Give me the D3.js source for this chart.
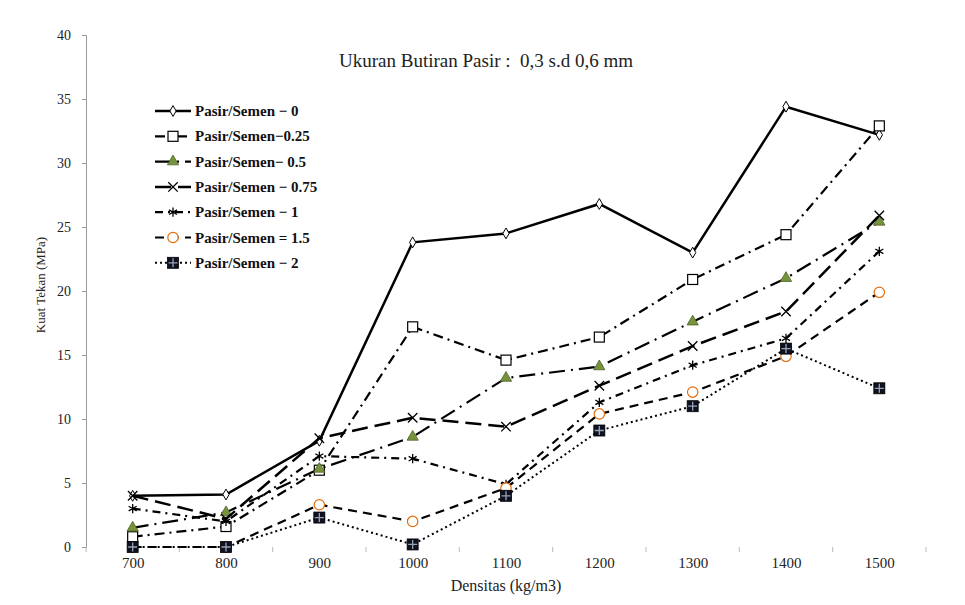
<!doctype html>
<html>
  <head>
    <meta charset="utf-8">
    <title>Kuat Tekan vs Densitas</title>
    <script src="https://cdnjs.cloudflare.com/ajax/libs/d3/7.8.5/d3.min.js"></script>
    <style>
      body { margin: 0; background: #fff; }
    </style>
  </head>
  <body>
    <div id="chart"></div>
    <script>
      // data
      const densitas = [700, 800, 900, 1000, 1100, 1200, 1300, 1400, 1500];
      const ps0   = [4.0, 4.1, 8.3, 23.8, 24.5, 26.8, 23.0, 34.4, 32.2];
      const ps025 = [0.8, 1.6, 6.0, 17.2, 14.6, 16.4, 20.9, 24.4, 32.9];
      const ps05  = [1.5, 2.7, 6.1, 8.6, 13.2, 14.1, 17.6, 21.0, 25.4];
      const ps075 = [4.0, 2.2, 8.5, 10.1, 9.4, 12.6, 15.7, 18.4, 25.9];
      const ps1   = [3.0, 2.0, 7.1, 6.9, 4.9, 11.3, 14.2, 16.3, 23.1];
      const ps15  = [0, 0, 3.3, 2.0, 4.6, 10.4, 12.1, 14.9, 19.9];
      const ps2   = [0, 0, 2.3, 0.2, 4.0, 9.1, 11.0, 15.5, 12.4];
      const yTicks = [0, 5, 10, 15, 20, 25, 30, 35, 40];
      const legendLabels = [
        "Pasir/Semen \u2212 0", "Pasir/Semen\u22120.25", "Pasir/Semen\u2212 0.5",
        "Pasir/Semen \u2212 0.75", "Pasir/Semen \u2212 1", "Pasir/Semen = 1.5", "Pasir/Semen \u2212 2"
      ];

      const FONT = "'Liberation Serif', 'DejaVu Serif', serif";

      const series = [
        { name: legendLabels[0], values: ps0,   dash: null,        width: 2.5, marker: "diamond" },
        { name: legendLabels[1], values: ps025, dash: "10,5,2,5",  width: 2.2, marker: "square" },
        { name: legendLabels[2], values: ps05,  dash: "16,6,2,6",  width: 2.2, marker: "triangle" },
        { name: legendLabels[3], values: ps075, dash: "16,7",      width: 2.5, marker: "x" },
        { name: legendLabels[4], values: ps1,   dash: "8,5,2,5",   width: 2.2, marker: "asterisk" },
        { name: legendLabels[5], values: ps15,  dash: "9,6",       width: 2.2, marker: "circle" },
        { name: legendLabels[6], values: ps2,   dash: "2,3",       width: 2,   marker: "filled" }
      ];

      const W = 965, H = 605;
      const svg = d3.select("#chart").append("svg")
        .attr("width", W).attr("height", H)
        .style("font-family", FONT);

      const x = d3.scalePoint().domain(densitas).range([86, 926]).padding(0.5);
      const y = d3.scaleLinear().domain([0, 40]).range([547, 35]);

      // y axis
      const yAxis = svg.append("g").attr("transform", "translate(86,0)")
        .call(d3.axisLeft(y).tickValues(yTicks).tickSize(4).tickPadding(11));
      yAxis.attr("font-family", null);
      yAxis.select(".domain").attr("stroke", "#999");
      yAxis.selectAll(".tick line").attr("stroke", "#999");
      yAxis.selectAll(".tick text").attr("font-size", 14).attr("fill", "#222")
        .style("font-family", FONT);

      // x axis: labels at categories, ticks between categories
      const step = x.step();
      const xAxis = svg.append("g").attr("transform", "translate(0,547)")
        .call(d3.axisBottom(x).tickSize(0).tickPadding(10));
      xAxis.attr("font-family", null);
      xAxis.select(".domain").remove();
      xAxis.selectAll(".tick text").attr("font-size", 15).attr("fill", "#222")
        .style("font-family", FONT);
      const bounds = d3.range(densitas.length + 1).map(i => 86 + i * step);
      svg.append("g").selectAll("line").data(bounds).join("line")
        .attr("x1", d => d).attr("x2", d => d)
        .attr("y1", 547).attr("y2", 552)
        .attr("stroke", "#bbb");

      // titles
      svg.append("text").attr("x", 486).attr("y", 67).attr("text-anchor", "middle")
        .attr("font-size", 19).attr("fill", "#222").style("font-family", FONT)
        .text("Ukuran Butiran Pasir :\u00a0 0,3 s.d 0,6 mm");
      svg.append("text").attr("x", 506).attr("y", 591).attr("text-anchor", "middle")
        .attr("font-size", 16).attr("fill", "#222").style("font-family", FONT)
        .text("Densitas (kg/m3)");
      svg.append("text").attr("transform", "translate(45,285) rotate(-90)")
        .attr("text-anchor", "middle").attr("font-size", 13).attr("fill", "#222")
        .style("font-family", FONT)
        .text("Kuat Tekan (MPa)");

      function drawMarker(g, type, cx, cy) {
        const m = g.append("g").attr("transform", `translate(${cx},${cy})`);
        if (type === "diamond") {
          m.append("path").attr("d", d3.symbol(d3.symbolDiamond, 34)())
            .attr("fill", "#fff").attr("stroke", "#000").attr("stroke-width", 1);
        } else if (type === "square") {
          m.append("rect").attr("x", -5).attr("y", -5).attr("width", 10).attr("height", 10)
            .attr("fill", "#fff").attr("stroke", "#000").attr("stroke-width", 1.2);
        } else if (type === "triangle") {
          m.append("path").attr("d", d3.symbol(d3.symbolTriangle, 55)())
            .attr("fill", "#77933c").attr("stroke", "#4f6228").attr("stroke-width", 0.8);
        } else if (type === "x") {
          m.append("path").attr("d", d3.symbol(d3.symbolTimes, 60)())
            .attr("fill", "none").attr("stroke", "#000").attr("stroke-width", 1.3);
        } else if (type === "asterisk") {
          m.append("path").attr("d", d3.symbol(d3.symbolAsterisk, 60)())
            .attr("fill", "none").attr("stroke", "#000").attr("stroke-width", 1.3);
        } else if (type === "circle") {
          m.append("circle").attr("r", 5.2)
            .attr("fill", "#fff").attr("stroke", "#e46c0a").attr("stroke-width", 1.2);
        } else if (type === "filled") {
          m.append("rect").attr("x", -5.5).attr("y", -5.5).attr("width", 11).attr("height", 11)
            .attr("fill", "#0e1220").attr("stroke", "#000").attr("stroke-width", 0.8);
          m.append("path").attr("d", "M-4.5,0H4.5M0,-4.5V4.5")
            .attr("stroke", "#9aa3b5").attr("stroke-width", 1.3);
        }
      }

      const line = d3.line().x((d, i) => x(densitas[i])).y(d => y(d));

      series.forEach(s => {
        svg.append("path").datum(s.values)
          .attr("d", line)
          .attr("fill", "none")
          .attr("stroke", "#000")
          .attr("stroke-width", s.width)
          .attr("stroke-dasharray", s.dash);
        const g = svg.append("g");
        s.values.forEach((v, i) => drawMarker(g, s.marker, x(densitas[i]), y(v)));
      });

      // legend
      const legend = svg.append("g");
      series.forEach((s, i) => {
        const ly = 111 + i * 25.3;
        legend.append("line").attr("x1", 155).attr("x2", 191)
          .attr("y1", ly).attr("y2", ly)
          .attr("stroke", "#000").attr("stroke-width", s.width)
          .attr("stroke-dasharray", s.dash);
        drawMarker(legend, s.marker, 173, ly);
        legend.append("text").attr("x", 195).attr("y", ly + 5)
          .attr("font-size", 15).attr("font-weight", "bold").attr("fill", "#111")
          .style("font-family", FONT)
          .text(s.name);
      });
    </script>
  </body>
</html>
